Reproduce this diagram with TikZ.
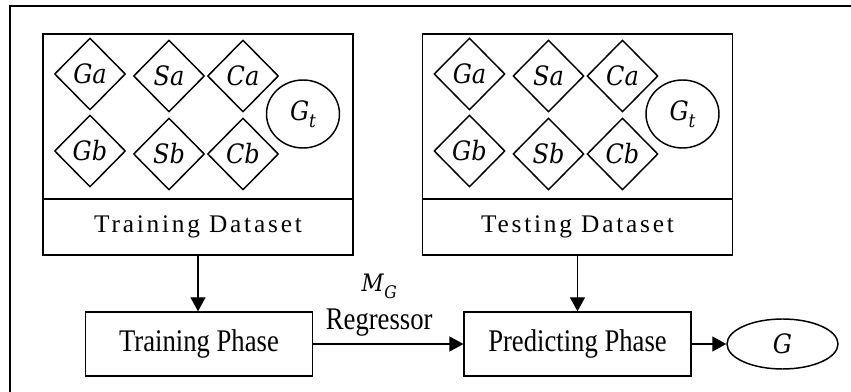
\documentclass[tikz,border=0pt]{standalone}
\usepackage{fontspec}
\usepackage{graphicx}
\setmainfont{Liberation Serif}
\newfontfamily\spacedfont[LetterSpace=11]{Liberation Serif}
\newfontfamily\symfont{DejaVu Serif Condensed}
\usetikzlibrary{arrows.meta,shapes.geometric}

% tall, slightly condensed look of the phase captions
\newcommand\tallText[1]{\scalebox{1}[1.18]{#1}}
% italic symbol with a lowered italic index: #1 symbol, #2 index, #3 index size
\newcommand\symIdx[3]{\textit{#1}\raisebox{-0.28em}{\fontsize{#3}{#3}\selectfont\textit{#2}}}

% one dataset panel: #1 name prefix, #2 left edge (px), #3 caption
\newcommand\datasetPanel[3]{%
  \begin{scope}[shift={(#2,0)}]
    \node[panel, minimum height=123.75pt] (#1body) at (155,116.5) {};
    \node[panel, minimum height=42pt, font=\spacedfont\fontsize{19}{19}\selectfont] (#1label) at (155,227) {#3};
    \node[gem] (#1ga) at (47,74)   {Ga};
    \node[gem] (#1sa) at (126,76)  {Sa};
    \node[gem] (#1ca) at (200,76)  {Ca};
    \node[gem] (#1gb) at (47,151)  {Gb};
    \node[gem] (#1sb) at (126,154) {Sb};
    \node[gem] (#1cb) at (200,154) {Cb};
    \node[roundel, minimum width=54.75pt, minimum height=51pt] (#1gt) at (260,114) {\symIdx{G}{t}{14}};
  \end{scope}}

\begin{document}
\begin{tikzpicture}[x=0.75pt, y=-0.75pt,
    line width=1.1pt,
    panel/.style={draw, rectangle, inner sep=0pt, minimum width=232.5pt},
    phasebox/.style={draw, rectangle, inner sep=0pt, minimum width=170pt, minimum height=48pt,
      font=\fontsize{20}{20}\selectfont},
    gem/.style={draw, diamond, inner sep=0pt, minimum width=53.25pt, minimum height=54pt,
      font=\symfont\fontsize{20}{20}\selectfont\itshape},
    roundel/.style={draw, ellipse, inner sep=0pt, font=\symfont\fontsize{20}{20}\selectfont\itshape},
    arr/.style={-{Triangle[length=10.5pt, width=11.25pt]}}]
  \path[use as bounding box, clip] (0,0) rectangle (851,392);

  % outer frame (only its top and left sides fall inside the picture)
  \draw[line width=1.5pt] (10,420) -- (10,6) -- (880,6);

  \datasetPanel{train}{43}{Training Dataset}
  \datasetPanel{test}{422.5}{Testing Dataset}

  \node[phasebox] (trainphase) at (199,344)   {\tallText{Training Phase}};
  \node[phasebox] (predict)    at (577.5,344) {\tallText{Predicting Phase}};
  \node[roundel, minimum width=83.25pt, minimum height=37.5pt] (result) at (782.5,344) {G};

  \draw[arr] (trainlabel.south) -- (trainlabel.south |- trainphase.north);
  \draw[arr] (testlabel.south) -- (testlabel.south |- predict.north);
  \draw[arr] (trainphase.east) -- node[pos=0.44, anchor=south, inner sep=0pt, yshift=5pt, align=center]
    {{\symfont\fontsize{18}{18}\selectfont\symIdx{M}{G}{13}}\\[7pt]
     {\fontsize{20}{20}\selectfont\tallText{Regressor}}} (predict.west);
  \draw[arr] (predict.east) -- (result.west);
\end{tikzpicture}
\end{document}
